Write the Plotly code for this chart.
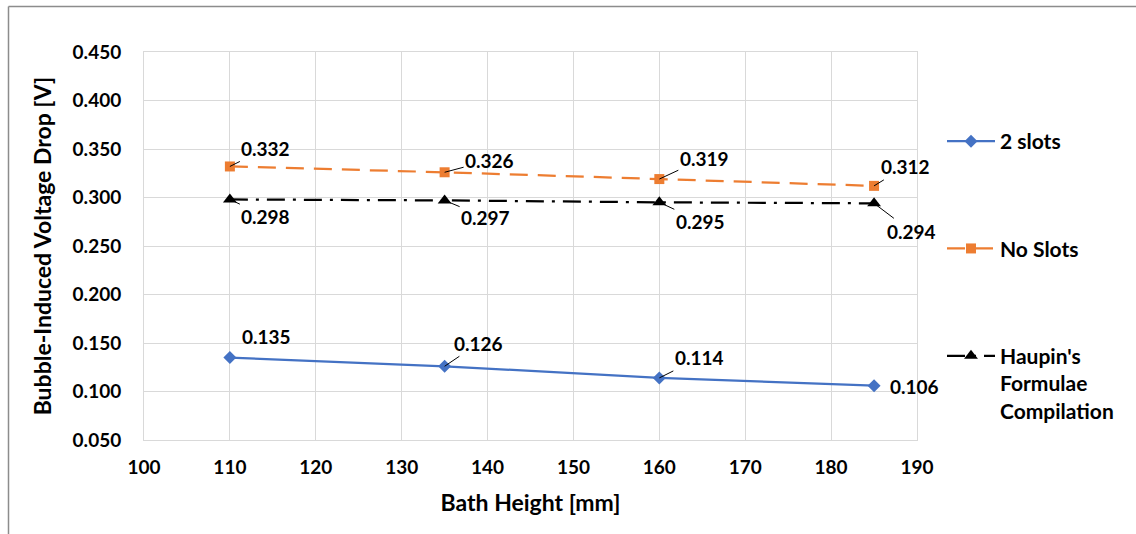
import plotly.graph_objects as go

# Bath height (mm) and bubble-induced voltage drop (V) per configuration
bath_height = [110, 135, 160, 185]
two_slots = [0.135, 0.126, 0.114, 0.106]
no_slots = [0.332, 0.326, 0.319, 0.312]
haupin = [0.298, 0.297, 0.295, 0.294]

series_names = ["2 slots", "No Slots", "Haupin's<br>Formulae<br>Compilation"]

x_ticks = [100, 110, 120, 130, 140, 150, 160, 170, 180, 190]
y_ticks = [0.05, 0.10, 0.15, 0.20, 0.25, 0.30, 0.35, 0.40, 0.45]

FONT = "Lato"
W, H = 1136, 534
ML, MR, MT, MB = 144, 219, 52, 94

fig = go.Figure()

fig.add_trace(go.Scatter(
    x=bath_height, y=two_slots, name=f"<b>{series_names[0]}</b>", mode="lines+markers",
    line=dict(color="#4472C4", width=2.25),
    marker=dict(symbol="diamond", size=10, color="#4472C4"),
    legendgroup="a",
))
fig.add_trace(go.Scatter(
    x=bath_height, y=no_slots, name=f"<b>{series_names[1]}</b>", mode="lines+markers",
    line=dict(color="#ED7D31", width=2.25, dash="18px,10px"),
    marker=dict(symbol="square", size=10, color="#ED7D31"),
    legendgroup="b",
))
fig.add_trace(go.Scatter(
    x=bath_height, y=haupin, name=f"<b>{series_names[2]}</b>", mode="lines+markers",
    line=dict(color="#000000", width=2.25, dash="18px,8px,3px,8px"),
    marker=dict(symbol="triangle-up", size=12, color="#000000"),
    legendgroup="c",
))

# Data labels: (values, pixel offsets of the label from each point, leader line)
label_font = dict(family=FONT, size=19, color="#000000")
label_specs = [
    (no_slots, [(36, -18), (45, -12), (45, -21), (31, -19)], [True, True, True, True]),
    (haupin, [(36, 17), (41, 17), (41, 19), (37, 28)], [True, True, True, True]),
    (two_slots, [(37, -21), (34, -23), (40, -20), (40, 1)], [False, True, True, False]),
]
annotations = []
for values, offsets, leaders in label_specs:
    for xv, yv, (dx, dy), lead in zip(bath_height, values, offsets, leaders):
        if lead:
            annotations.append(dict(
                x=xv, y=yv, xref="x", yref="y", text=f"<b>{yv:.3f}</b>",
                showarrow=True, arrowhead=0, arrowwidth=1, arrowcolor="#000000",
                ax=dx, ay=dy, font=label_font, standoff=0,
            ))
        else:
            annotations.append(dict(
                x=xv, y=yv, xref="x", yref="y", text=f"<b>{yv:.3f}</b>",
                showarrow=False, xshift=dx, yshift=-dy, font=label_font,
            ))

pw = W - ML - MR
ph = H - MT - MB


def px_to_paper_x(px):
    return (px - ML) / pw


def px_to_paper_y(py):
    return (H - MB - py) / ph


# Outer chart frame (top and left edges)
border = dict(color="#8c8c8c", width=1.5)
shapes = [
    dict(type="line", xref="paper", yref="paper",
         x0=px_to_paper_x(8.5), x1=px_to_paper_x(W + 2),
         y0=px_to_paper_y(6.5), y1=px_to_paper_y(6.5), line=border),
    dict(type="line", xref="paper", yref="paper",
         x0=px_to_paper_x(8.5), x1=px_to_paper_x(8.5),
         y0=px_to_paper_y(6.5), y1=px_to_paper_y(H + 2), line=border),
]

grid = "#d9d9d9"
tick_font = dict(family=FONT, size=19, color="#000000")
fig.update_layout(
    width=W, height=H,
    margin=dict(l=ML, r=MR, t=MT, b=MB),
    paper_bgcolor="white", plot_bgcolor="white",
    font=dict(family=FONT, color="#000000"),
    xaxis=dict(
        range=[100, 190], tickvals=x_ticks, ticktext=[f"<b>{v}</b>" for v in x_ticks],
        showgrid=True, gridcolor=grid, gridwidth=1,
        showline=True, linecolor=grid, linewidth=1, mirror=True,
        zeroline=False, ticks="", ticklabelstandoff=10, tickfont=tick_font,
        title=dict(text="<b>Bath Height [mm]</b>", font=dict(family=FONT, size=23), standoff=18),
    ),
    yaxis=dict(
        range=[0.05, 0.45], tickvals=y_ticks, ticktext=[f"<b>{v:.3f}</b>" for v in y_ticks],
        showgrid=True, gridcolor=grid, gridwidth=1,
        showline=True, linecolor=grid, linewidth=1, mirror=True,
        zeroline=False, ticks="", ticklabelstandoff=18, tickfont=tick_font,
        title=dict(text="<b>Bubble-Induced Voltage Drop [V]</b>", font=dict(family=FONT, size=23), standoff=14),
    ),
    legend=dict(
        x=px_to_paper_x(942), y=px_to_paper_y(121), xanchor="left", yanchor="top",
        font=dict(family=FONT, size=21, color="#000000"),
        itemwidth=48, tracegroupgap=77, valign="top",
        bgcolor="rgba(0,0,0,0)",
    ),
    annotations=annotations,
    shapes=shapes,
)

fig.write_html("out.html")
